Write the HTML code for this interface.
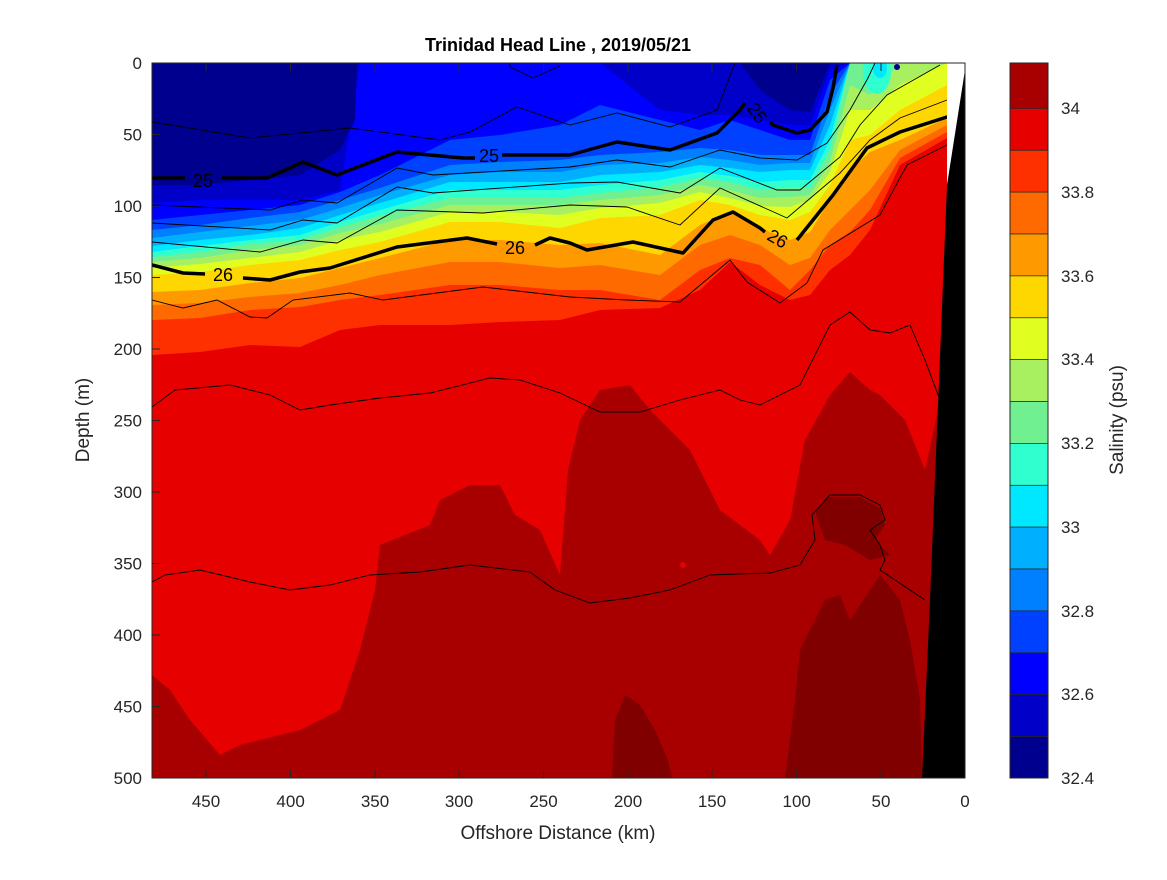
<!DOCTYPE html>
<html><head><meta charset="utf-8"><style>
html,body{margin:0;padding:0;background:#fff;}
svg text{font-family:"Liberation Sans","DejaVu Sans",sans-serif;fill:#262626;}
</style></head><body>
<svg width="1167" height="875" viewBox="0 0 1167 875" xmlns="http://www.w3.org/2000/svg">
<defs><clipPath id="c"><rect x="152" y="63" width="813" height="715"/></clipPath></defs>
<rect width="1167" height="875" fill="#fff"/>
<g clip-path="url(#c)">
<rect x="152" y="63" width="813" height="715" fill="#E60000"/>
<polygon fill="#A80000" points="152,675 170,690 190,720 220,755 240,745 300,730 340,710 360,650 375,590 380,545 430,525 440,500 470,485 500,485 515,515 540,530 560,575 568,470 580,420 600,390 630,385 650,410 690,450 720,510 760,540 770,555 790,520 805,440 830,395 850,372 870,390 880,395 905,420 925,470 940,400 965,300 965,778 152,778"/>
<circle cx="683" cy="565" r="3" fill="#E60000"/>
<polygon fill="#800000" points="612,778 615,720 625,695 640,705 655,730 668,760 672,778"/>
<polygon fill="#800000" points="785,778 795,700 800,650 825,600 840,595 850,620 870,590 880,575 900,600 910,640 920,700 922,778"/>
<polygon fill="#800000" points="815,510 830,497 860,497 880,508 885,525 875,540 890,555 870,560 845,545 825,540 818,520"/>
<g stroke="none">
<polygon fill="#FF3000" points="152,63 965,63 965,138 947,138 900,165 870,230 850,255 830,270 810,295 790,300 760,285 730,262 700,290 660,308 600,310 560,320 500,322 450,325 380,325 340,330 300,347 250,345 200,352 152,355"/>
<polygon fill="#FF6A00" points="152,63 965,63 965,132 947,132 900,158 870,210 850,232 830,245 810,270 790,290 760,265 730,258 700,270 660,300 600,290 560,290 500,285 450,285 380,295 340,300 300,307 250,310 200,318 152,320"/>
<polygon fill="#FF9900" points="152,63 965,63 965,125 947,125 900,150 870,190 850,210 830,230 810,258 790,265 760,245 730,235 700,245 660,275 600,265 560,268 500,262 450,262 380,275 340,285 300,293 250,297 200,303 152,305"/>
<polygon fill="#FFD700" points="152,63 965,63 965,118 947,118 900,140 870,152 850,170 830,200 810,232 790,240 760,228 730,212 700,225 660,255 600,243 560,245 500,240 450,240 380,258 340,268 300,278 250,283 200,290 152,292"/>
<polygon fill="#E0FF20" points="152,63 965,63 965,85 947,85 900,110 870,135 850,140 830,185 810,212 790,220 760,215 730,205 700,200 660,215 600,218 560,228 500,222 450,222 380,242 340,250 300,260 250,265 200,272 152,275"/>
<polygon fill="#A8F060" points="152,63 965,63 965,63 947,63 900,85 870,110 850,110 830,172 810,200 790,207 760,206 730,198 700,192 660,203 600,208 560,215 500,212 450,212 380,232 340,240 300,252 250,258 200,264 152,268"/>
<polygon fill="#70F090" points="152,63 947,63 900,63 870,95 850,85 830,162 810,195 790,197 760,198 730,190 700,185 660,195 600,200 560,205 500,205 450,205 380,224 340,233 300,245 250,250 200,258 152,262"/>
<polygon fill="#30FFD0" points="152,63 850,63 830,150 810,188 790,187 760,190 730,182 700,178 660,187 600,193 560,198 500,198 450,198 380,216 340,227 300,240 250,244 200,252 152,257"/>
<polygon fill="#00E8FF" points="152,63 850,63 830,140 810,180 790,180 760,182 730,176 700,172 660,180 600,185 560,190 500,190 450,190 380,210 340,222 300,235 250,240 200,246 152,252"/>
<polygon fill="#00B0FF" points="152,63 850,63 830,125 810,170 790,170 760,172 730,168 700,165 660,172 600,175 560,182 500,182 450,182 380,203 340,215 300,228 250,235 200,240 152,246"/>
<polygon fill="#0080FF" points="152,63 850,63 830,110 810,163 790,163 760,165 730,160 700,157 660,163 600,165 560,172 500,172 450,175 380,195 340,208 300,220 250,226 200,232 152,238"/>
<polygon fill="#0040FF" points="152,63 850,63 830,95 810,155 790,155 760,155 730,150 700,148 660,152 600,155 560,160 500,162 450,165 380,188 340,200 300,212 250,218 200,225 152,230"/>
<polygon fill="#0000FF" points="152,63 850,63 830,80 810,140 790,140 760,130 730,120 700,130 660,120 600,105 560,125 500,135 450,140 380,175 340,192 300,205 250,210 200,215 152,220"/>
<polygon fill="#0000C8" points="152,63 850,63 830,70 810,125 790,125 760,120 730,115 700,115 660,110 600,63 560,63 500,63 450,63 380,63 360,63 340,190 300,200 250,200 200,200 152,203"/>
<polygon fill="#00008F" points="152,63 850,63 830,63 810,112 790,110 760,90 740,63 357,63 355,120 340,150 300,175 250,180 200,185 152,185"/>
<ellipse cx="877" cy="72" rx="14" ry="22" fill="#30FFD0"/>
<ellipse cx="880" cy="68" rx="7" ry="10" fill="#00E8FF"/>
<circle cx="897" cy="67" r="3" fill="#00008F"/>
</g>
<g fill="none" stroke="#000" stroke-width="0.9">
<polyline points="152,122 250,138 350,128 440,140 470,132 517,107 570,125 617,113 670,127 717,110 735,63"/>
<polyline points="510,63 510,67 533,78 560,66"/>
<polyline points="152,205 270,210 303,200 337,203 397,168 433,175 570,167 617,160 670,167 720,150 760,158 797,160 827,143 850,110 868,78 875,63"/>
<polyline points="152,223 270,230 303,220 337,223 397,187 433,193 570,183 617,182 680,193 720,168 777,190 800,190 840,157 860,125 887,95 940,65"/>
<polyline points="152,242 260,252 303,240 337,243 397,210 483,213 570,205 627,207 680,225 720,188 787,218 840,173 870,140 900,118 947,100"/>
<polyline points="152,300 183,308 217,300 250,317 267,318 293,300 350,293 383,300 483,287 570,297 627,300 680,302 730,260 747,282 780,303 807,283 823,250 880,215 907,165 947,145"/>
<polyline points="152,407 175,390 230,385 270,395 300,410 330,405 380,398 430,393 490,378 520,380 560,393 600,412 640,412 680,400 720,390 740,400 760,405 800,385 830,325 850,312 870,330 890,333 910,325 925,360 940,400"/>
<polyline points="152,582 165,575 200,570 250,582 290,590 330,585 370,575 420,572 470,565 530,572 555,590 590,603 630,598 670,590 710,575 770,573 800,565 815,540 812,515 830,495 860,495 880,505 885,520 870,530 880,545 885,560 880,570 895,580 910,590 925,600"/>
</g>
<g fill="none" stroke="#000" stroke-width="3.5" stroke-linejoin="round">
<polyline points="152,178 185,178"/>
<polyline points="222,178 267,178 303,162 337,175 397,152 463,158 475,158"/>
<polyline points="502,155 570,155 617,142 670,150 717,133 740,110 745,103"/>
<polyline points="770,122 773,125 797,133 810,130 827,112 833,88 837,65"/>
<polyline points="152,265 183,273 205,274"/>
<polyline points="243,278 270,280 300,272 330,268 397,247 467,238 497,244"/>
<polyline points="535,245 550,238 570,243 587,250 633,242 683,253 713,220 733,212 760,228 765,232"/>
<polyline points="797,240 833,195 867,148 900,132 947,117 965,110"/>
</g>
<g font-size="18" fill="#000">
<text x="203" y="187" text-anchor="middle" style="fill:#000">25</text>
<text x="489" y="162" text-anchor="middle" style="fill:#000">25</text>
<text x="757" y="119" text-anchor="middle" style="fill:#000" transform="rotate(55 757 113)">25</text>
<text x="223" y="281" text-anchor="middle" style="fill:#000">26</text>
<text x="515" y="254" text-anchor="middle" style="fill:#000">26</text>
<text x="778" y="245" text-anchor="middle" style="fill:#000" transform="rotate(30 778 238)">26</text>
</g>
<polygon fill="#fff" points="947,63 965,63 965,72 947,190"/>
<polygon fill="#000" points="965,70 965,778 922,778 930,600 947,185"/>
</g>
<rect x="152" y="63" width="813" height="715" fill="none" stroke="#262626" stroke-width="1"/>
<g stroke="#262626" stroke-width="1">
<line x1="206" y1="778" x2="206" y2="770"/><line x1="290.6" y1="778" x2="290.6" y2="770"/><line x1="375" y1="778" x2="375" y2="770"/><line x1="459" y1="778" x2="459" y2="770"/><line x1="543.5" y1="778" x2="543.5" y2="770"/><line x1="628" y1="778" x2="628" y2="770"/><line x1="712" y1="778" x2="712" y2="770"/><line x1="796.7" y1="778" x2="796.7" y2="770"/><line x1="881" y1="778" x2="881" y2="770"/>
<line x1="206" y1="63" x2="206" y2="71"/><line x1="290.6" y1="63" x2="290.6" y2="71"/><line x1="375" y1="63" x2="375" y2="71"/><line x1="459" y1="63" x2="459" y2="71"/><line x1="543.5" y1="63" x2="543.5" y2="71"/><line x1="628" y1="63" x2="628" y2="71"/><line x1="712" y1="63" x2="712" y2="71"/><line x1="796.7" y1="63" x2="796.7" y2="71"/><line x1="881" y1="63" x2="881" y2="71"/>
<line x1="152" y1="134.5" x2="160" y2="134.5"/><line x1="152" y1="206" x2="160" y2="206"/><line x1="152" y1="277.5" x2="160" y2="277.5"/><line x1="152" y1="349" x2="160" y2="349"/><line x1="152" y1="420.5" x2="160" y2="420.5"/><line x1="152" y1="492" x2="160" y2="492"/><line x1="152" y1="563.5" x2="160" y2="563.5"/><line x1="152" y1="635" x2="160" y2="635"/><line x1="152" y1="706.5" x2="160" y2="706.5"/>
</g>
<g font-size="17" text-anchor="middle">
<text x="206" y="807">450</text><text x="290.6" y="807">400</text><text x="375" y="807">350</text><text x="459" y="807">300</text><text x="543.5" y="807">250</text><text x="628" y="807">200</text><text x="712" y="807">150</text><text x="796.7" y="807">100</text><text x="881" y="807">50</text><text x="965" y="807">0</text>
</g>
<g font-size="17" text-anchor="end">
<text x="142" y="69">0</text><text x="142" y="140.5">50</text><text x="142" y="212">100</text><text x="142" y="283.5">150</text><text x="142" y="355">200</text><text x="142" y="426.5">250</text><text x="142" y="498">300</text><text x="142" y="569.5">350</text><text x="142" y="641">400</text><text x="142" y="712.5">450</text><text x="142" y="784">500</text>
</g>
<text x="558" y="51" font-size="18" font-weight="bold" text-anchor="middle" style="fill:#000">Trinidad Head Line , 2019/05/21</text>
<text x="558" y="839" font-size="19" text-anchor="middle">Offshore Distance (km)</text>
<text x="0" y="0" font-size="19" text-anchor="middle" transform="translate(89,420) rotate(-90)">Depth (m)</text>
<text x="0" y="0" font-size="19" text-anchor="middle" transform="translate(1123,420) rotate(-90)">Salinity (psu)</text>
<g stroke="#262626" stroke-width="0.7">
<rect x="1010" y="63" width="38" height="45.4" fill="#A80000"/>
<rect x="1010" y="108.4" width="38" height="41.9" fill="#E60000"/>
<rect x="1010" y="150.3" width="38" height="41.9" fill="#FF3000"/>
<rect x="1010" y="192.1" width="38" height="41.9" fill="#FF6A00"/>
<rect x="1010" y="234" width="38" height="41.9" fill="#FF9900"/>
<rect x="1010" y="275.9" width="38" height="41.9" fill="#FFD700"/>
<rect x="1010" y="317.8" width="38" height="41.9" fill="#E0FF20"/>
<rect x="1010" y="359.6" width="38" height="41.9" fill="#A8F060"/>
<rect x="1010" y="401.5" width="38" height="41.9" fill="#70F090"/>
<rect x="1010" y="443.4" width="38" height="41.9" fill="#30FFD0"/>
<rect x="1010" y="485.3" width="38" height="41.9" fill="#00E8FF"/>
<rect x="1010" y="527.1" width="38" height="41.9" fill="#00B0FF"/>
<rect x="1010" y="569" width="38" height="41.9" fill="#0080FF"/>
<rect x="1010" y="610.9" width="38" height="41.9" fill="#0040FF"/>
<rect x="1010" y="652.8" width="38" height="41.9" fill="#0000FF"/>
<rect x="1010" y="694.6" width="38" height="41.9" fill="#0000C8"/>
<rect x="1010" y="736.5" width="38" height="41.5" fill="#00008F"/>
</g>
<rect x="1010" y="63" width="38" height="715" fill="none" stroke="#262626" stroke-width="1"/>
<g font-size="17">
<text x="1061" y="114">34</text><text x="1061" y="198">33.8</text><text x="1061" y="282">33.6</text><text x="1061" y="365">33.4</text><text x="1061" y="449">33.2</text><text x="1061" y="533">33</text><text x="1061" y="617">32.8</text><text x="1061" y="700">32.6</text><text x="1061" y="784">32.4</text>
</g>
</svg>
</body></html>
